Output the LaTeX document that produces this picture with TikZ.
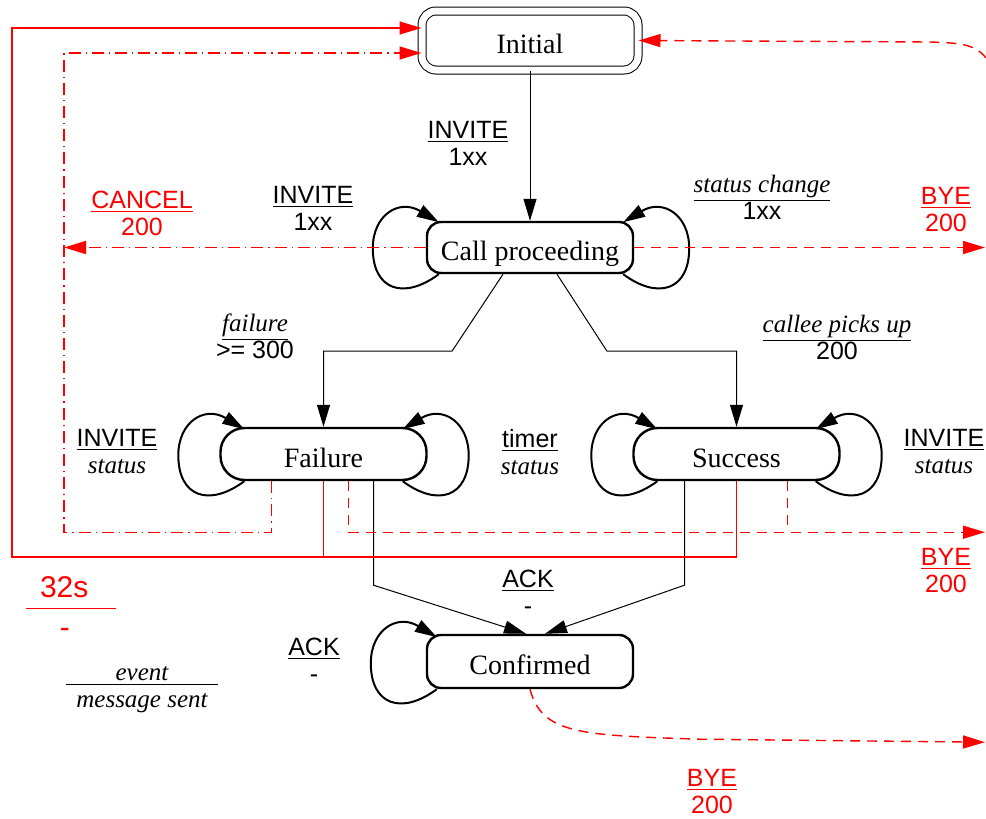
\documentclass[tikz,border=0pt]{standalone}
\usepackage{fontspec}
\setmainfont{Liberation Serif}
\setsansfont{Liberation Sans}
\usetikzlibrary{arrows.meta,calc}

\newcommand{\ital}[1]{{\rmfamily\itshape #1}}
\newcommand{\trans}[2]{\underline{#1}\\#2}

\tikzset{
	state/.style={draw, line width=1.2pt, rounded corners=7pt, inner sep=0pt,
		minimum width=103pt, minimum height=25.5pt, text height=13pt, text depth=0pt,
		font=\fontsize{14}{16}\rmfamily},
	evt/.style={align=center, inner sep=0pt, font=\fontsize{12.5}{13.5}\sffamily},
	arr/.style={-{Triangle[length=11pt,width=6.5pt]}},
	flow/.style={arr, line width=0.5pt},
	timeout/.style={red, line width=0.7pt},
	cancel/.style={red, line width=0.7pt, dash pattern=on 6pt off 2.5pt on 0.6pt off 2.5pt},
	bye/.style={red, line width=0.7pt, dash pattern=on 5pt off 3.5pt},
	selfloop/.pic={
		\draw[arr, line width=1pt] (0,0) .. controls (-35,26) and (-66,16) .. (-66,-26)
			.. controls (-66,-59) and (-40,-76) .. (0,-52);
	}
}

\begin{document}
\begin{tikzpicture}[x=0.5pt,y=-0.5pt]
	\useasboundingbox (0,0) rectangle (986,819);

	% states
	\node[state, double, double distance=3.5pt, line width=0.5pt, minimum width=108pt,
		minimum height=29.5pt, text height=13.5pt] (init) at (530,40.5) {Initial};
	\node[state] (cp) at (530,247.5) {Call proceeding};
	\node[state, rounded corners=12pt, minimum height=26pt] (fail) at (323.5,454) {Failure};
	\node[state, rounded corners=12pt, minimum height=26pt] (succ) at (736.5,454) {Success};
	\node[state, minimum height=26.5pt] (conf) at (530,661.5) {Confirmed};

	\coordinate (cancelbar) at (64,53);
	\coordinate (rim) at (985,0);
	\coordinate (timeoutcorner) at (12,557);

	% normal transitions
	\draw[flow] (init) -- (cp);
	\draw[flow] ($(cp.south)+(-27,0)$) -- ++(-51,77) -| (fail.north);
	\draw[flow] ($(cp.south)+(27,0)$) -- ++(50,77) -| (succ.north);
	\draw[flow] ($(fail.south)+(50,0)$) -- ++(0,104) -- ($(conf.north)+(-4,0)$);
	\draw[flow] ($(succ.south)+(-52,0)$) -- ++(0,104) -- ($(conf.north)+(15,0)$);

	% self loops
	\foreach \n/\d in {cp/13, fail/25, succ/25, conf/11}
		\path ($(\n.south west)+(\d,0)$) pic {selfloop};
	\foreach \n/\d in {cp/11, fail/25, succ/25}
		\path ($(\n.south east)+(-\d,0)$) pic[xscale=-1] {selfloop};

	% 32s timeout
	\draw[timeout] (fail.south) -- ++(0,77);
	\draw[timeout, arr] (succ.south) |- (timeoutcorner) |- ($(init.west)+(0,-12.5)$);

	% cancel
	\draw[cancel, arr] ($(fail.south)+(-52,0)$) -- ++(0,51) -| (cancelbar) -- ($(init.west)+(0,12.5)$);
	\draw[cancel, arr] (cp.west) -- (cp.west -| cancelbar);

	% bye
	\draw[bye, arr] (cp.east) -- (cp.east -| rim);
	\draw[bye, arr] ($(fail.south)+(25,0)$) -- ++(0,51) coordinate (byeline) -- (byeline -| rim);
	\draw[bye] ($(succ.south)+(51,0)$) -- ++(0,51);
	\draw[bye, arr] (conf.south) .. controls ($(conf.south)+(12,45)$) and ($(conf.south)+(50,46)$)
		.. ($(conf.south)+(170,50)$) -- ($(conf.south -| rim)+(0,53)$);
	\draw[bye, arr] ($(rim)+(1,58)$) .. controls ($(rim)+(-10,44)$) and ($(rim)+(-25,43)$)
		.. ($(rim)+(-55,42)$) -- (init.east);

	% labels
	\node[evt] (l-invite) at (468,143) {\trans{INVITE}{1xx}};
	\node[evt] (l-cploop) at (313,208) {\trans{INVITE}{1xx}};
	\node[evt, red] (l-cancel) at (142,213) {\trans{CANCEL}{200}};
	\node[evt] (l-change) at (762,197) {\trans{\ital{status change}}{1xx}};
	\node[evt, red] (l-bye1) at (946,210) {\trans{BYE}{200}};
	\node[evt] (l-fail) at (255,336) {\trans{\ital{failure}}{>= 300}};
	\node[evt] (l-pick) at (837,337) {\trans{\ital{callee picks up}}{200}};
	\node[evt] (l-failloop) at (117,452) {\trans{INVITE}{\ital{status}}};
	\node[evt] (l-timer) at (530,452) {\trans{timer}{\ital{status}}};
	\node[evt] (l-succloop) at (944,452) {\trans{INVITE}{\ital{status}}};
	\node[evt, red] (l-bye2) at (946,571) {\trans{BYE}{200}};
	\node[evt] (l-ack) at (528,592) {\trans{ACK}{-}};
	\node[evt] (l-confloop) at (314,660) {\trans{ACK}{-}};
	\node[evt, red] (l-bye3) at (712,792) {\trans{BYE}{200}};
	\node[evt, red, font=\fontsize{15}{17}\sffamily] (l-timeout) at (71,607)
		{\makebox[45pt][l]{\hspace{7pt}32s}\\[-11pt]\rule{45pt}{0.6pt}\\[-3pt]\makebox[45pt][l]{\hspace{17pt}-}};
	\node[evt] (l-legend) at (142,690) {\underline{\makebox[76pt]{\ital{event}}}\\\ital{message sent}};
\end{tikzpicture}
\end{document}
